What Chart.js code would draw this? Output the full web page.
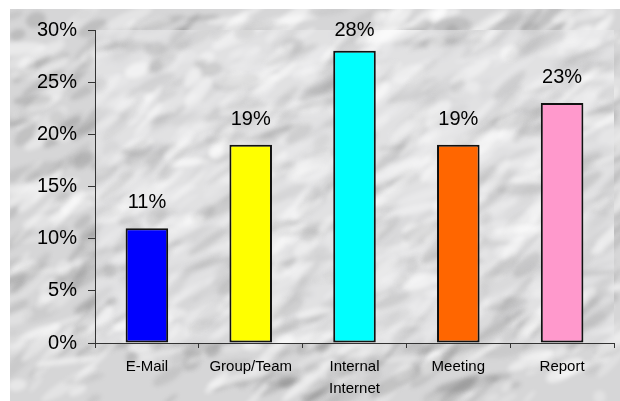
<!DOCTYPE html>
<html>
<head>
<meta charset="utf-8">
<script src="https://cdn.jsdelivr.net/npm/chart.js@4.4.0/dist/chart.umd.min.js"></script>
<style>
  html, body { margin: 0; padding: 0; background: #fff; }
  canvas { display: block; }
</style>
</head>
<body>
<canvas id="canvas" width="620" height="401"></canvas>
<script>
var categories = ["E-Mail", "Group/Team", ["Internal", "Internet"], "Meeting", "Report"];
var shares = [11, 19, 28, 19, 23];
var barColors = ["#0000ff", "#ffff00", "#00ffff", "#ff6600", "#ff99cc"];
var yTicks = [0, 5, 10, 15, 20, 25, 30];

var fontFamily = "'Liberation Sans', Arial, sans-serif";

// deterministic generator for the marble texture only
var seed = 12345;
function rnd() {
    seed = (seed * 1103515245 + 12345) % 2147483648;
    return seed / 2147483648;
}

function marble(ctx, x, y, w, h, base, count, darkAlpha) {
    ctx.save();
    ctx.beginPath();
    ctx.rect(x, y, w, h);
    ctx.clip();
    ctx.fillStyle = base;
    ctx.fillRect(x, y, w, h);
    ctx.filter = "blur(2px)";
    for (var i = 0; i < count; i++) {
        var cx = x + rnd() * w;
        var cy = y + rnd() * h;
        var len = 6 + rnd() * 28;
        var th = 2 + rnd() * 6;
        var dark = rnd() < 0.5;
        ctx.save();
        ctx.translate(cx, cy);
        ctx.rotate(-0.5 + (rnd() - 0.5) * 0.9);
        ctx.fillStyle = dark ? "rgba(110,110,110," + (darkAlpha * (0.4 + rnd())) + ")"
                             : "rgba(255,255,255," + (0.2 + rnd() * 0.35) + ")";
        ctx.beginPath();
        ctx.ellipse(0, 0, len, th, 0, 0, Math.PI * 2);
        ctx.fill();
        ctx.restore();
    }
    ctx.restore();
}

var backdrop = {
    id: "backdrop",
    beforeDraw: function (chart) {
        var ctx = chart.ctx;
        var a = chart.chartArea;
        ctx.save();
        ctx.fillStyle = "#ffffff";
        ctx.fillRect(0, 0, chart.width, chart.height);
        seed = 12345;
        marble(ctx, 10, 9, chart.width - 10, chart.height - 9, "#d6d6d7", 750, 0.2);
        seed = 777;
        marble(ctx, a.left, a.top, a.right - a.left, a.bottom - a.top, "rgba(232,232,234,0.6)", 400, 0.14);
        ctx.restore();
    }
};

var valueLabels = {
    id: "valueLabels",
    afterDatasetsDraw: function (chart) {
        var ctx = chart.ctx;
        var meta = chart.getDatasetMeta(0);
        ctx.save();
        ctx.font = "20px " + fontFamily;
        ctx.fillStyle = "#000";
        ctx.textAlign = "center";
        ctx.textBaseline = "alphabetic";
        meta.data.forEach(function (bar, i) {
            var y = Math.max(bar.y - 20, 36);
            ctx.fillText(shares[i] + "%", bar.x, y);
        });
        ctx.restore();
    }
};

new Chart(document.getElementById("canvas").getContext("2d"), {
    type: "bar",
    data: {
        labels: categories,
        datasets: [{
            data: shares,
            backgroundColor: barColors,
            borderColor: "#111",
            borderWidth: 2,
            borderSkipped: false,
            categoryPercentage: 1,
            barPercentage: 0.41
        }]
    },
    options: {
        responsive: false,
        animation: false,
        layout: { padding: { top: 30, right: 6, left: 0, bottom: 0 } },
        plugins: {
            legend: { display: false },
            tooltip: { enabled: false }
        },
        scales: {
            x: {
                grid: { drawOnChartArea: false, drawTicks: true, tickLength: 5, color: "#333", offset: true },
                border: { display: true, color: "#333", width: 1 },
                ticks: {
                    color: "#000",
                    font: { family: fontFamily, size: 15, lineHeight: 1.45 },
                    padding: 8,
                    maxRotation: 0
                },
                afterFit: function (scale) { scale.height = 58; }
            },
            y: {
                min: 0,
                max: 30,
                afterBuildTicks: function (scale) {
                    scale.ticks = yTicks.map(function (v) { return { value: v }; });
                },
                grid: { drawOnChartArea: false, drawTicks: true, tickLength: 7, color: "#333" },
                border: { display: true, color: "#333", width: 1 },
                ticks: {
                    color: "#000",
                    font: { family: fontFamily, size: 20 },
                    padding: 11,
                    callback: function (v) { return v + "%"; }
                },
                afterFit: function (scale) { scale.width = 95; }
            }
        }
    },
    plugins: [backdrop, valueLabels]
});
</script>
</body>
</html>
